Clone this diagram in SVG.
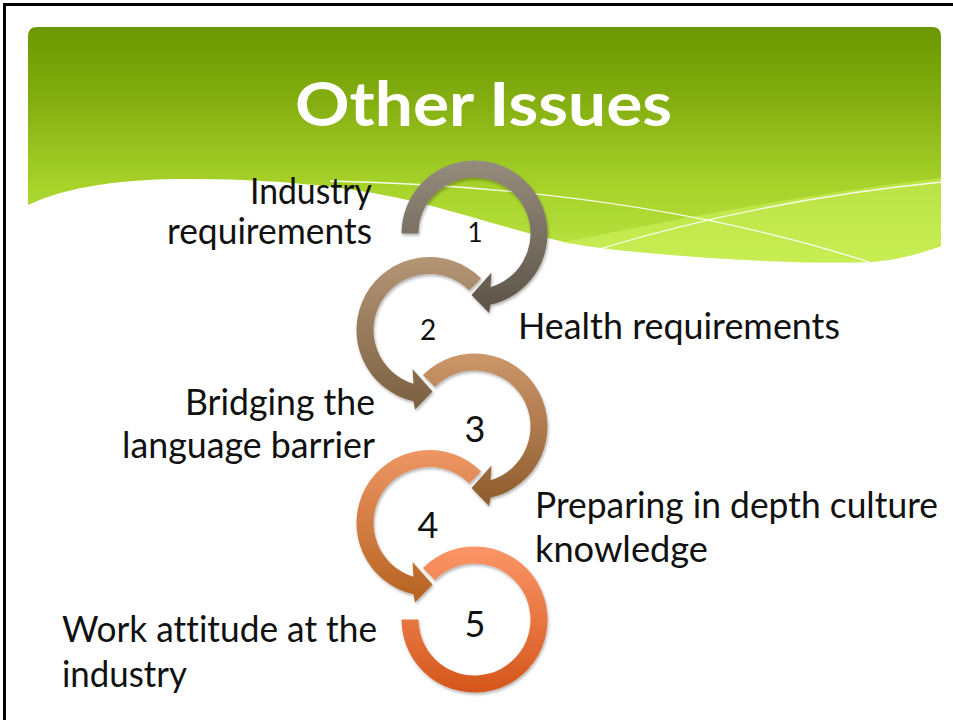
<svg xmlns="http://www.w3.org/2000/svg" width="953" height="720" viewBox="0 0 953 720">
<style>
text{font-variant-ligatures:none;font-feature-settings:"liga" 0}
.lbl{font-family:Lato,"Liberation Sans",sans-serif;font-size:36px;fill:#111}
.num{font-family:Lato,"Liberation Sans",sans-serif;fill:#111;text-anchor:middle}
.title{font-family:Lato,"Liberation Sans",sans-serif;font-weight:700;font-size:62px;fill:#fff}
.arr{filter:url(#sh)}
</style>
<defs>
<linearGradient id="hdr" gradientUnits="userSpaceOnUse" x1="0" y1="27" x2="0" y2="270">
<stop offset="0" stop-color="#6a9700"/>
<stop offset="0.3" stop-color="#84ae10"/>
<stop offset="0.65" stop-color="#a6d22a"/>
<stop offset="1" stop-color="#bde746"/>
</linearGradient>
<linearGradient id="g1" x1="0" y1="0" x2="0" y2="1"><stop offset="0" stop-color="#968c7e"/><stop offset="1" stop-color="#5c5347"/></linearGradient>
<linearGradient id="g2" x1="0" y1="0" x2="0" y2="1"><stop offset="0" stop-color="#b49676"/><stop offset="1" stop-color="#7a5f40"/></linearGradient>
<linearGradient id="g3" x1="0" y1="0" x2="0" y2="1"><stop offset="0" stop-color="#cb976b"/><stop offset="1" stop-color="#8e5b2c"/></linearGradient>
<linearGradient id="g4" x1="0" y1="0" x2="0" y2="1"><stop offset="0" stop-color="#ee9664"/><stop offset="1" stop-color="#b5621f"/></linearGradient>
<linearGradient id="g5" x1="0" y1="0" x2="0" y2="1"><stop offset="0" stop-color="#fb9668"/><stop offset="1" stop-color="#d4561a"/></linearGradient>
<filter id="sh" x="-20%" y="-20%" width="140%" height="140%">
<feDropShadow dx="1" dy="2" stdDeviation="1.5" flood-color="#000" flood-opacity="0.3"/>
</filter>
</defs>
<rect width="953" height="720" fill="#fff"/>
<path d="M4.5,720 V4.5 H953" fill="none" stroke="#000" stroke-width="3"/>
<g id="header">
<path d="M28,205 L28,36 Q28,27 37,27 L932,27 Q941,27 941,36 L941,246 C925,252 900,260 870,262 C800,265 650,256 580,245 C530,236 480,218 420,203 C360,188 290,180 200,179 C130,178 70,185 28,205 Z" fill="url(#hdr)"/>
<path d="M560,243 C680,218 820,192 941,178 L941,246 C925,252 900,260 870,262 C800,265 650,256 580,245 Z" fill="#d6f868" opacity="0.45"/>
<path d="M330,181 Q640,188 869,262" fill="none" stroke="#fff" stroke-width="1.3" opacity="0.9"/>
<path d="M596,250 Q760,200 942,182" fill="none" stroke="#fff" stroke-width="1.3" opacity="0.9"/>
<text class="title" x="295" y="126" textLength="377" lengthAdjust="spacingAndGlyphs">Other Issues</text>
</g>
<g id="node-1">
<path class="arr" fill="url(#g1)" d="M401.5,233.5 A73,73 0 1 1 490.5,304.72 L489,313 L471.5,295 L491.5,272.5 L490.5,287.17 A56,56 0 1 0 418.5,233.5 Z"/>
<text class="num" x="475" y="242" font-size="26">1</text>
<text class="lbl" x="250" y="204" font-size="35" textLength="122" lengthAdjust="spacingAndGlyphs">Industry</text>
<text class="lbl" x="167" y="244" font-size="35" textLength="205" lengthAdjust="spacingAndGlyphs">requirements</text>
</g>
<g id="node-2">
<path class="arr" fill="url(#g2)" d="M481.12,278.38 A73,73 0 1 0 413.5,401.22 L415,409.5 L432.5,391.5 L412.5,369 L413.5,383.67 A56,56 0 1 1 469.1,290.4 Z"/>
<text class="num" x="428" y="340" font-size="28">2</text>
<text class="lbl" x="518" y="339" textLength="322" lengthAdjust="spacingAndGlyphs">Health requirements</text>
</g>
<g id="node-3">
<path class="arr" fill="url(#g3)" d="M422.88,374.88 A73,73 0 1 1 490.5,497.72 L489,506 L471.5,488 L491.5,465.5 L490.5,480.17 A56,56 0 1 0 434.9,386.9 Z"/>
<text class="num" x="475" y="442" font-size="36">3</text>
<text class="lbl" x="185" y="415" textLength="190" lengthAdjust="spacingAndGlyphs">Bridging the</text>
<text class="lbl" x="122" y="458" textLength="253" lengthAdjust="spacingAndGlyphs">language barrier</text>
</g>
<g id="node-4">
<path class="arr" fill="url(#g4)" d="M481.12,471.38 A73,73 0 1 0 413.5,594.22 L415,602.5 L432.5,584.5 L412.5,562 L413.5,576.67 A56,56 0 1 1 469.1,483.4 Z"/>
<text class="num" x="428" y="538" font-size="36">4</text>
<text class="lbl" x="535" y="518" textLength="403" lengthAdjust="spacingAndGlyphs">Preparing in depth culture</text>
<text class="lbl" x="535" y="562" textLength="173" lengthAdjust="spacingAndGlyphs">knowledge</text>
</g>
<g id="node-5">
<path class="arr" fill="url(#g5)" d="M422.88,567.88 A73,73 0 1 1 401.5,619.5 L418.5,619.5 A56,56 0 1 0 434.9,579.9 Z"/>
<text class="num" x="475" y="637" font-size="36">5</text>
<text class="lbl" x="62" y="642" textLength="315" lengthAdjust="spacingAndGlyphs">Work attitude at the</text>
<text class="lbl" x="62" y="687" textLength="125" lengthAdjust="spacingAndGlyphs">industry</text>
</g>
<g id="connectors"/>
</svg>
